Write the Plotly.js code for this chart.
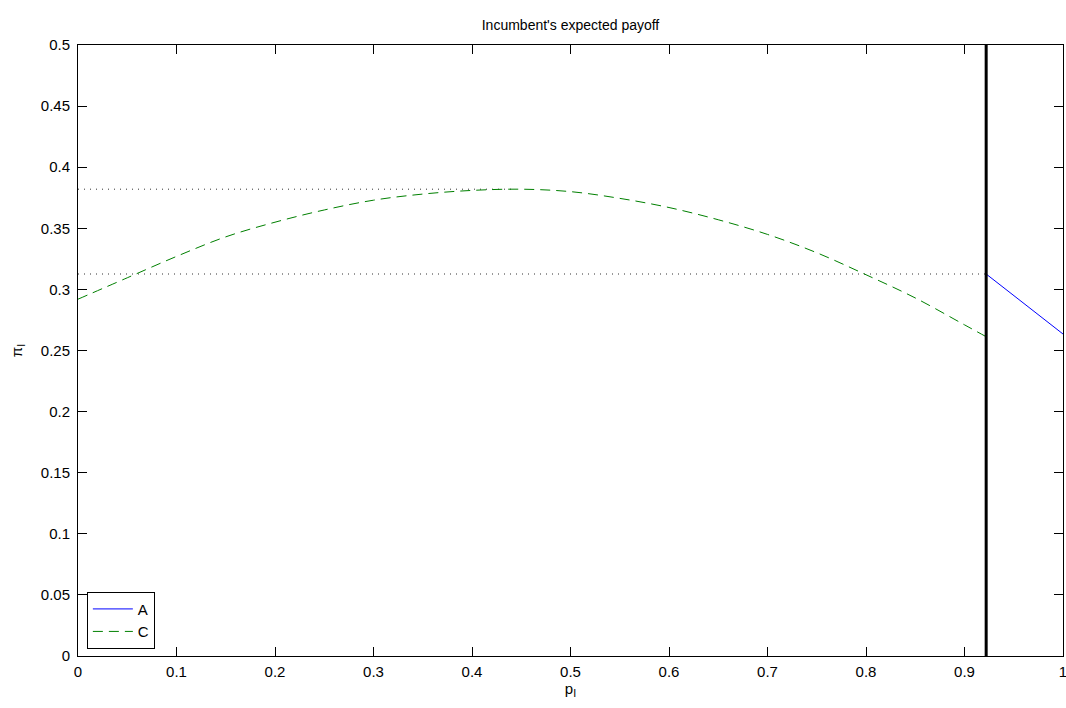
<!DOCTYPE html>
<html>
<head>
<meta charset="utf-8">
<script src="https://cdn.plot.ly/plotly-3.0.1.min.js"></script>
<style>html,body{margin:0;padding:0;background:#fff;}#chart{width:1066px;height:708px;}</style>
</head>
<body>
<div id="chart"></div>
<script>
// Series C (green dashed), regime below threshold
const cX = [0, 0.05, 0.1, 0.15, 0.2, 0.25, 0.3, 0.35, 0.4, 0.45, 0.5, 0.55, 0.6, 0.65, 0.7, 0.75, 0.8, 0.85, 0.9, 0.922];
const cY = [0.292, 0.3095, 0.327, 0.343, 0.355, 0.365, 0.373, 0.378, 0.381, 0.382, 0.380, 0.3745, 0.367, 0.357, 0.345, 0.330, 0.312, 0.293, 0.271, 0.2613];
// Series A (blue solid), regime above threshold
const aX = [0.922, 0.96, 1.0];
const aY = [0.3126, 0.2888, 0.2635];
// Threshold (vertical line)
const thresholdX = [0.922, 0.922];
const thresholdY = [0, 0.5];
// Reference dotted lines
const maxLineX = [0, 0.44];
const maxLineY = [0.382, 0.382];
const aLineX = [0, 0.922];
const aLineY = [0.3126, 0.3126];
// Ticks
const xTickVals = [0, 0.1, 0.2, 0.3, 0.4, 0.5, 0.6, 0.7, 0.8, 0.9, 1];
const xTickText = ["0", "0.1", "0.2", "0.3", "0.4", "0.5", "0.6", "0.7", "0.8", "0.9", "1"];
const yTickVals = [0, 0.05, 0.1, 0.15, 0.2, 0.25, 0.3, 0.35, 0.4, 0.45, 0.5];
const yTickText = ["0", "0.05", "0.1", "0.15", "0.2", "0.25", "0.3", "0.35", "0.4", "0.45", "0.5"];

const font = "Liberation Sans, Arial, sans-serif";

const traces = [
  {x: maxLineX, y: maxLineY, mode: "lines", line: {color: "#333", width: 1, dash: "1px,5px"}, showlegend: false, hoverinfo: "skip"},
  {x: aLineX, y: aLineY, mode: "lines", line: {color: "#333", width: 1, dash: "1px,5px"}, showlegend: false, hoverinfo: "skip"},
  {x: aX, y: aY, mode: "lines", name: "A", line: {color: "#0000ff", width: 1}},
  {x: cX, y: cY, mode: "lines", name: "C", line: {color: "#008000", width: 1, dash: "10px,6px", shape: "spline", smoothing: 1}},
  {x: thresholdX, y: thresholdY, mode: "lines", line: {color: "#000", width: 3}, showlegend: false, hoverinfo: "skip"}
];

const axisCommon = {
  showgrid: false, zeroline: false, showline: true, linecolor: "#000", linewidth: 1,
  mirror: "ticks", ticks: "inside", ticklen: 9, tickcolor: "#000", tickwidth: 1,
  ticklabeloverflow: "allow",
  tickfont: {family: font, size: 15, color: "#000"}
};

const layout = {
  width: 1066, height: 708,
  margin: {l: 78, r: 3, t: 45, b: 52},
  paper_bgcolor: "#fff", plot_bgcolor: "#fff",
  title: {text: "Incumbent's expected payoff", font: {family: font, size: 14, color: "#000"}, x: 0.5, xanchor: "center", xref: "paper", y: 0.965, yanchor: "middle"},
  xaxis: Object.assign({}, axisCommon, {range: [0, 1], tickvals: xTickVals, ticktext: xTickText, ticklabelstandoff: 2,
    title: {text: "p<sub>I</sub>", font: {family: font, size: 15, color: "#000"}, standoff: 4}}),
  yaxis: Object.assign({}, axisCommon, {range: [0, 0.5], tickvals: yTickVals, ticktext: yTickText, ticklabelstandoff: 4,
    title: {text: "π<sub>I</sub>", font: {family: font, size: 15, color: "#000"}, standoff: 14}}),
  legend: {x: 0.009, y: 0.012, xanchor: "left", yanchor: "bottom", bgcolor: "#fff", bordercolor: "#000", borderwidth: 1,
    font: {family: font, size: 15, color: "#000"}, tracegroupgap: 0, itemwidth: 40},
  showlegend: true
};

Plotly.newPlot("chart", traces, layout, {displayModeBar: false, staticPlot: true});
</script>
</body>
</html>
